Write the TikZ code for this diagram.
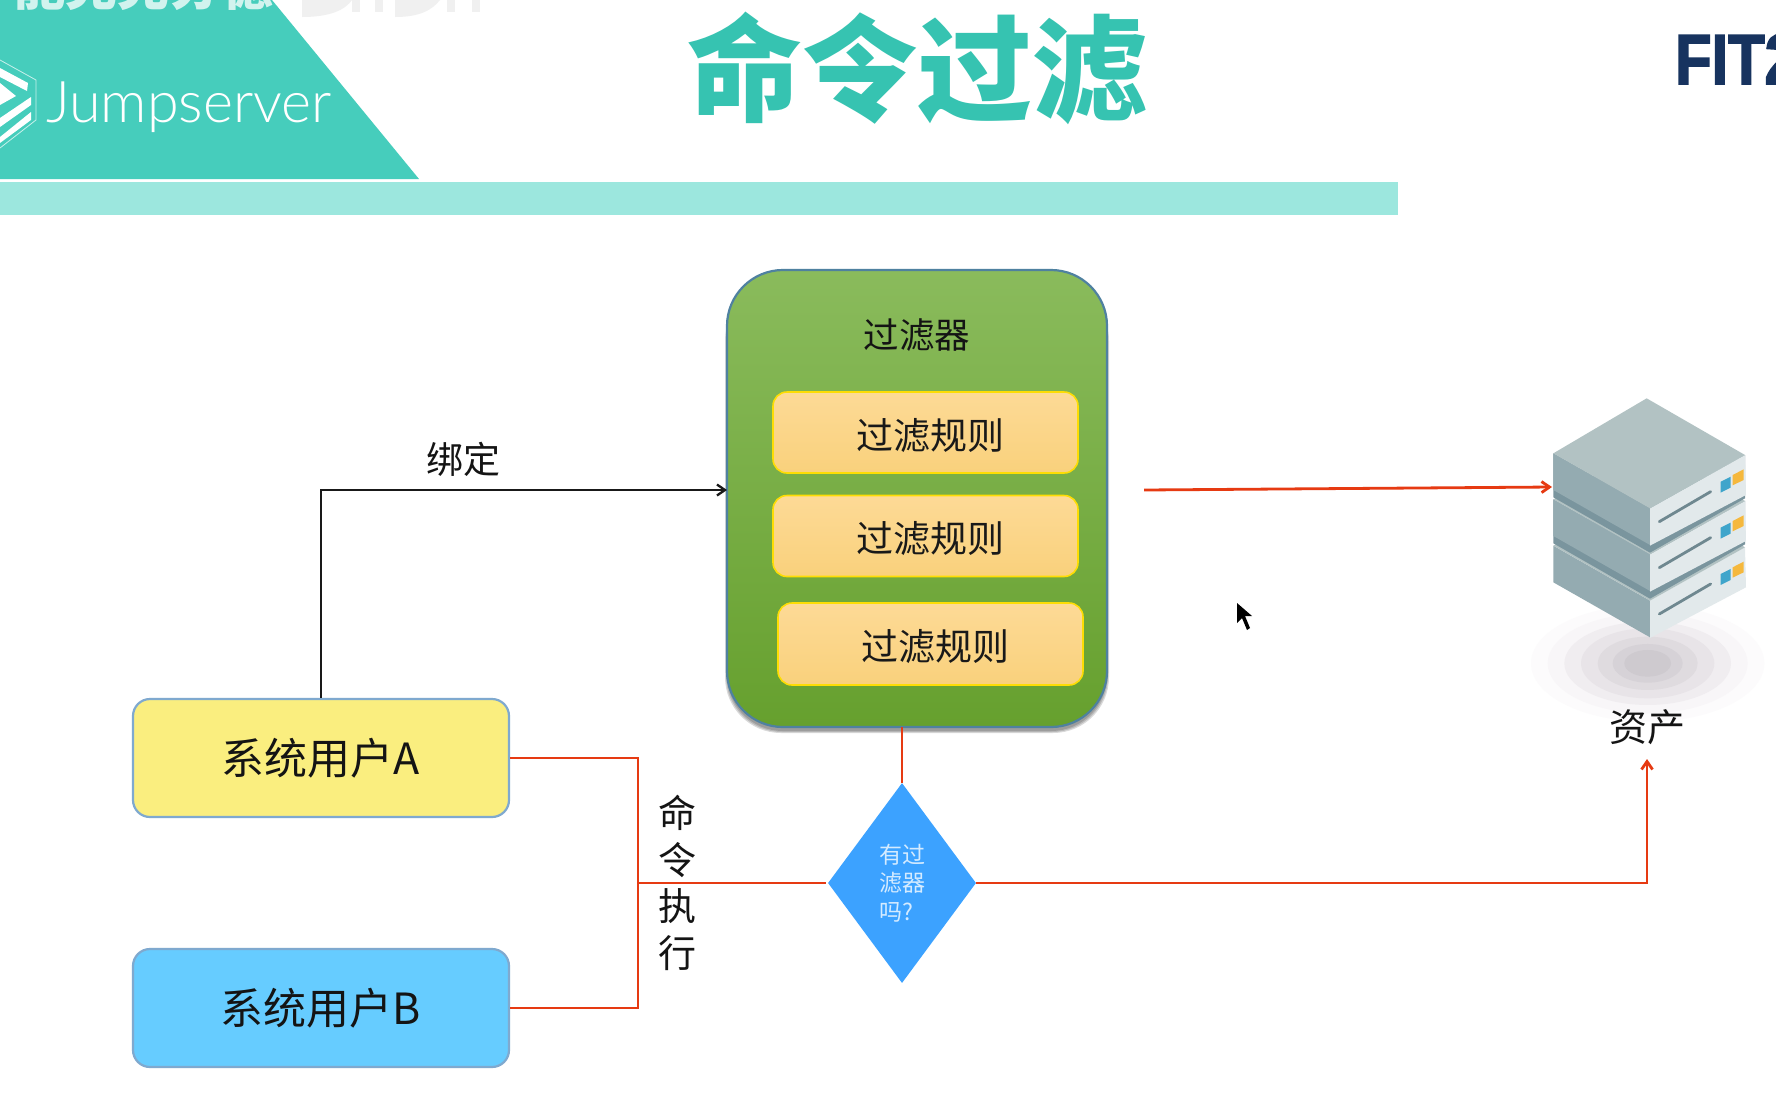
\documentclass[tikz,border=0pt]{standalone}
\usepackage{fontspec}
\setmainfont{Noto Sans CJK SC}
\newfontfamily\latin{Lato}[UprightFont=* Light]
\newfontfamily\fitfont{Liberation Sans}[BoldFeatures={FakeBold=2.5}]
\usetikzlibrary{arrows.meta,shapes.geometric,calc}
\definecolor{tealA}{HTML}{46CDBC}
\definecolor{tealB}{HTML}{9CE7DE}
\definecolor{tealT}{HTML}{36C3B1}
\definecolor{redL}{HTML}{E63A12}
\definecolor{navy}{HTML}{17335F}
\newcommand{\fs}[1]{\fontsize{#1}{#1}\selectfont}
\tikzset{
  x=1pt,y=-1pt,
  userbox/.style={draw=#1,line width=2.2pt,rounded corners=17pt,minimum width=376pt,minimum height=118pt,inner sep=0pt,font=\fs{43}},
  rulebox/.style={draw=yellow!80!orange,line width=1.6pt,rounded corners=14pt,minimum width=305pt,minimum height=81pt,inner sep=0pt,top color=rulea,bottom color=ruleb},
  ruletext/.style={inner sep=0pt,font=\fs{37},text=black!90},
  redline/.style={draw=redL,line width=2.8pt},
  redarrow/.style={redline,-{Straight Barb[length=8pt,width=11pt]}},
  blackarrow/.style={draw=black!90,line width=2.3pt,-{Straight Barb[length=8pt,width=11pt]}},
  plain/.style={inner sep=0pt,text=black!92},
  srvL/.style={fill=srvleft},
  srvR/.style={fill=srvright},
  srvT/.style={fill=srvtop},
}
\definecolor{rulea}{HTML}{FDDA96}
\definecolor{ruleb}{HTML}{F9D17C}
\definecolor{srvleft}{HTML}{94ABB1}
\definecolor{srvright}{HTML}{E2E9EB}
\definecolor{srvtop}{HTML}{B2C2C3}
\definecolor{srvgap}{HTML}{7A959E}
\definecolor{srvline}{HTML}{6F8890}
\definecolor{srvblue}{HTML}{3FA5CB}
\definecolor{srvyel}{HTML}{F5B83D}
\definecolor{userA}{HTML}{FAEE7F}
\definecolor{userB}{HTML}{66CCFF}
\definecolor{ublue}{HTML}{7FA9CF}
\definecolor{diam}{HTML}{3CA2FF}
\definecolor{grA}{HTML}{8ABB5C}
\definecolor{grB}{HTML}{74AF36}
\definecolor{grC}{HTML}{66A02E}
\definecolor{grE}{HTML}{4F81A0}
\begin{document}
\begin{tikzpicture}
\useasboundingbox (0,0) rectangle (1776,1114);
\clip (0,0) rectangle (1776,1114);
\fill[white] (0,0) rectangle (1776,1114);
% header
\fill[tealA] (0,0) -- (272,0) -- (419,179) -- (0,179) -- cycle;
\fill[tealB] (0,182) rectangle (1398,215);
\node[inner sep=0pt,text=tealA!25!white,font=\fs{52}\bfseries] (cut) at (143,-14) {能克克分德};
% watermark
\fill[black!6] (302,0) -- (302,17) .. controls (330,17) and (345,10) .. (352,0) -- cycle;
\fill[black!6] (352,0) rectangle (360,12);
\fill[black!6] (375,0) rectangle (383,12);
\fill[black!6] (395,0) -- (395,17) .. controls (420,17) and (432,10) .. (440,0) -- cycle;
\fill[black!6] (447,0) rectangle (455,12);
\fill[black!6] (472,0) rectangle (480,12);
% logo
\draw[white!70!tealA,line width=0.8pt] (0,60) -- (36,80) -- (36,120) -- (0,148);
\fill[white] (0,68) -- (28,83) -- (27,91) -- (0,77) -- cycle;
\fill[white] (0,83) -- (16,96) -- (0,105) -- cycle;
\fill[white] (0,118) -- (31,97) -- (31,105) -- (0,127) -- cycle;
\fill[white] (0,137) -- (31,112) -- (31,120) -- (0,143) -- cycle;
\node[inner sep=0pt,anchor=base west,text=white,font=\latin\fs{57.5}] (brand) at (46,122) {Jumpserver};
\node[inner sep=0pt,text=tealT,font=\fs{115}\bfseries] (title) at (917,68) {命令过滤};
\node[inner sep=0pt,anchor=base west,text=navy,font=\fitfont\bfseries\fs{71},xscale=0.84,transform shape] (fit) at (1675,84) {FIT2};
% filter shadow
\foreach \e in {0,1,2}{
  \fill[black,opacity=0.15,rounded corners=56pt] (727-\e,285) rectangle (1107+\e,731+\e);
}
\node[draw=grE,line width=2.2pt,rounded corners=56pt,minimum width=380pt,minimum height=457pt,inner sep=0pt,top color=grA,middle color=grB,bottom color=grC] (filter) at (917,498.5) {};
\node[plain,font=\fs{35.5}] (ftitle) at (917,335) {过滤器};
\node[rulebox] (r1) at (925.5,432.5) {};
\node[ruletext] (t1) at (930.5,436) {过滤规则};
\node[rulebox] (r2) at (925.5,536) {};
\node[ruletext] (t2) at (930.5,539) {过滤规则};
\node[rulebox,minimum height=82pt] (r3) at (930.5,644) {};
\node[ruletext] (t3) at (935.5,647) {过滤规则};
% users
\node[userbox=ublue,fill=userA,text=black!92] (ua) at (321,758) {系统用户A};
\node[userbox=ublue,fill=userB,text=black!92] (ub) at (321,1008) {系统用户B};
% diamond
\node[diamond,fill=diam,minimum width=148pt,minimum height=200pt,inner sep=0pt,aspect=0.74] (dec) at (902,883) {};
\node[inner sep=0pt,align=left,text=white!78!diam,font=\fontsize{23}{28.5}\selectfont] (dt) at (902,883) {有过\\滤器\\吗?};
% coordinates
\coordinate (bindin) at (727,490);
\coordinate (jt) at (638,883);
\coordinate (jA) at (638,758);
\coordinate (jB) at (638,1008);
\coordinate (din) at (826,883);
\coordinate (fout) at (1144,490);
\coordinate (srvin) at (1552,487);
\coordinate (ftop) at (902,727);
\coordinate (assetin) at (1647,759);
% connectors
\draw[blackarrow] (ua.north) |- (bindin);
\node[plain,font=\fs{37}] (bind) at (463,459) {绑定};
\draw[redline] (ua.east) -- (jA) -- (jB) -- (ub.east);
\draw[redline] (jt) -- (din);
\draw[redline] (ftop) -- (dec.north);
\draw[redarrow] (dec.east) -| (assetin);
\draw[redarrow] (fout) -- (srvin);
% vertical label
\node[plain,font=\fs{38}] (c1) at (677,813) {命};
\node[plain,font=\fs{38}] (c2) at (677,860) {令};
\node[plain,font=\fs{38}] (c3) at (677,906) {执};
\node[plain,font=\fs{38}] (c4) at (677,953) {行};
% cursor
\fill[white] (1235,599) -- (1235,628) -- (1242,622) -- (1247,634) -- (1254,630) -- (1249,619) -- (1258,619) -- cycle;
\fill[black] (1237,603) -- (1237,623) -- (1242,618) -- (1247,630) -- (1250,628) -- (1245,616) -- (1252,616) -- cycle;
% server (zoom units)
\begin{scope}[shift={(1500,380)},x=0.3333pt,y=-0.3333pt]
  \foreach \c/\rx/\ry in {FCFBFC/350/175,F8F6F8/300/150,F0EDF0/250/125,E8E4E8/200/105,DFDBDF/150/80,D6D2D7/105/58,CECACF/70/40}{
    \definecolor{tmpc}{HTML}{\c}
    \fill[tmpc] (443,850) ellipse [x radius=\rx*0.3333pt,y radius=\ry*0.3333pt];
  }
  \foreach \d/\b in {277/0,138/1,0/1}{
    \begin{scope}[yshift=-\d*0.3333pt]
      \ifnum\b=1
        \fill[srvgap] (160,220) -- (450,385) -- (735,225) -- (735,355) -- (450,518) -- (160,352) -- cycle;
      \fi
      \fill[srvL] (160,220) -- (450,385) -- (450,495) -- (160,330) -- cycle;
      \fill[srvR] (450,385) -- (735,225) -- (738,345) -- (450,497) -- cycle;
      \fill[srvT] (440,55) -- (735,225) -- (450,385) -- (160,220) -- cycle;
      \draw[srvline,line width=2.8pt,line cap=round] (478,425) -- (632,335);
      \fill[srvblue] (662,305) -- (692,290) -- (692,323) -- (662,338) -- cycle;
      \fill[srvyel] (698,285) -- (731,268) -- (731,300) -- (698,316) -- cycle;
    \end{scope}
  }
\end{scope}
\node[plain,font=\fs{38}] (asset) at (1647,727) {资产};
\end{tikzpicture}
\end{document}
